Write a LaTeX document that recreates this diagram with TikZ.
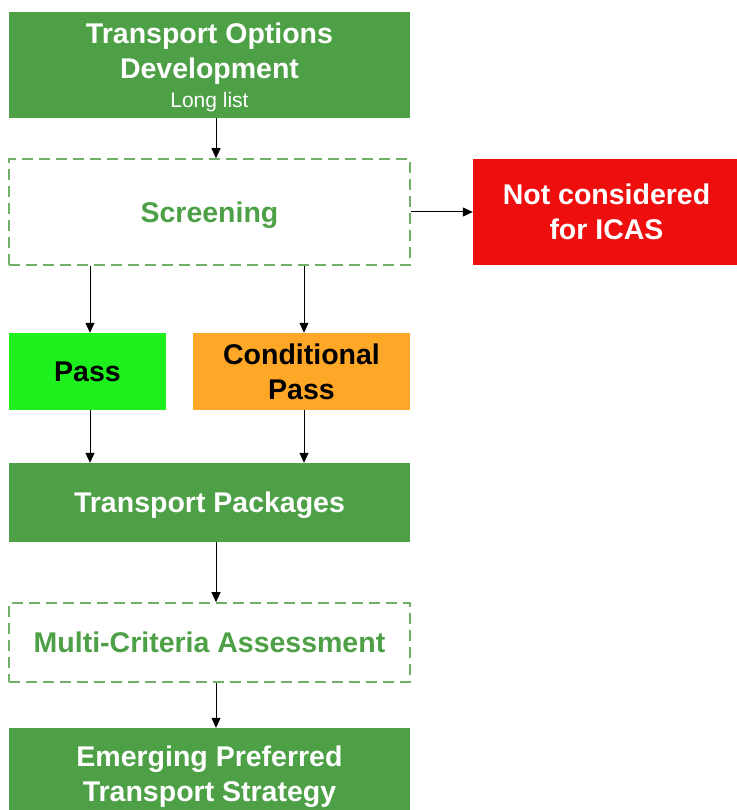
\documentclass[tikz,border=0pt]{standalone}
\usepackage{fontspec}
\setmainfont{Liberation Sans}
\usetikzlibrary{arrows.meta}
\definecolor{boxgreen}{HTML}{4DA046}
\definecolor{dashgreen}{HTML}{6DB066}
\definecolor{passgreen}{HTML}{1EF01E}
\definecolor{condorange}{HTML}{FFA726}
\definecolor{rejectred}{HTML}{EE0E0E}
\tikzset{
  bigfont/.style={font=\bfseries\fontsize{28.5}{35}\selectfont},
  solidbox/.style={fill=boxgreen, draw=none, text=white, bigfont, text depth=0pt,
    align=center, inner sep=0pt},
  dashbox/.style={draw=dashgreen, line width=1.6pt, dash pattern=on 11pt off 6pt, fill=white,
    text=boxgreen, bigfont, text depth=0pt, align=center, inner sep=0pt},
  darktext/.style={text=black, bigfont, text depth=0pt, align=center, inner sep=0pt, draw=none},
  arr/.style={line width=1pt, -{Triangle[length=10pt,width=9pt]}}
}
\begin{document}
\begin{tikzpicture}[x=1pt,y=1pt]
\useasboundingbox (0,0) rectangle (736,810);
\fill[white] (0,0) rectangle (736,810);
% main column boxes (y measured from the top edge)
\node[solidbox, minimum width=401pt, minimum height=106pt] (opt) at (209.5,{810-65})
  {Transport Options\\Development\\[-6pt]{\mdseries\fontsize{21}{24}\selectfont Long list}};
\node[dashbox, minimum width=401pt, minimum height=106pt] (scr) at (209.5,{810-212}) {Screening};
\node[solidbox, fill=rejectred, minimum width=267pt, minimum height=106pt] (rej) at (606.5,{810-212})
  {Not considered\\for ICAS};
\node[darktext, fill=passgreen, minimum width=157pt, minimum height=77pt] (pass) at (87.5,{810-371.5}) {Pass};
\node[darktext, fill=condorange, minimum width=217pt, minimum height=77pt] (cond) at (301.5,{810-371.5})
  {Conditional\\Pass};
\node[solidbox, minimum width=401pt, minimum height=79pt] (tp) at (209.5,{810-502.5}) {Transport Packages};
\node[dashbox, minimum width=401pt, minimum height=79pt] (mca) at (209.5,{810-642.5}) {Multi-Criteria Assessment};
\node[solidbox, minimum width=401pt, minimum height=92pt] (eps) at (209.5,{810-774})
  {Emerging Preferred\\Transport Strategy};
% connector columns
\coordinate (midcol) at (216,0);
\coordinate (passcol) at (90,0);
\coordinate (condcol) at (304,0);
\draw[arr] (opt.south -| midcol) -- (scr.north -| midcol);
\draw[arr] (scr.east) -- (rej.west);
\draw[arr] (scr.south -| passcol) -- (pass.north -| passcol);
\draw[arr] (scr.south -| condcol) -- (cond.north -| condcol);
\draw[arr] (pass.south -| passcol) -- (tp.north -| passcol);
\draw[arr] (cond.south -| condcol) -- (tp.north -| condcol);
\draw[arr] (tp.south -| midcol) -- (mca.north -| midcol);
\draw[arr] (mca.south -| midcol) -- (eps.north -| midcol);
\end{tikzpicture}
\end{document}
